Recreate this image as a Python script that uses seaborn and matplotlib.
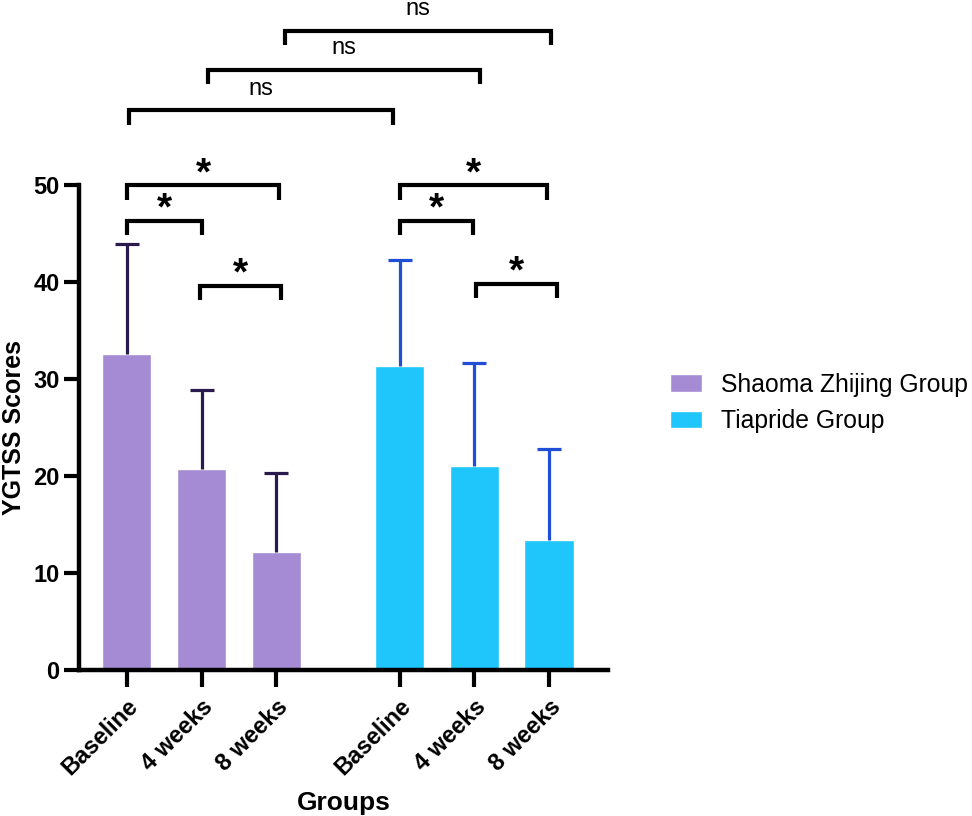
import numpy as np
import pandas as pd
import matplotlib
matplotlib.use("Agg")
import matplotlib.pyplot as plt
import seaborn as sns

# ---- data ----
timepoints = ["Baseline", "4 weeks", "8 weeks", "Baseline", "4 weeks", "8 weeks"]
groups = ["Shaoma Zhijing Group"] * 3 + ["Tiapride Group"] * 3
means = [32.6, 20.7, 12.2, 31.3, 21.0, 13.4]
sds = [11.3, 8.2, 8.1, 11.0, 10.6, 9.4]
positions = [0.0, 1.0, 2.0, 3.65, 4.65, 5.65]

# significance brackets
br_left = [0, 0, 1, 3, 3, 4, 0, 1, 2]
br_right = [1, 2, 2, 4, 5, 5, 3, 4, 5]
br_height = [46.3, 50.0, 39.6, 46.3, 50.0, 39.8, 57.7, 61.9, 65.9]
br_label = ["*", "*", "*", "*", "*", "*", "ns", "ns", "ns"]
br_dx_left = [0.0, 0.0, -0.02, 0.0, 0.0, 0.03, 0.03, 0.08, 0.12]
br_dx_right = [0.0, 0.04, 0.07, -0.02, -0.02, 0.11, -0.09, 0.08, 0.03]

purple = "#A58BD3"
cyan = "#1EC6FB"
err_colors = {"Shaoma Zhijing Group": "#2B1A4E", "Tiapride Group": "#1E4FD6"}

df = pd.DataFrame({"pos": positions, "mean": means, "sd": sds,
                   "group": groups, "time": timepoints})

sns.set_style("ticks", {"axes.edgecolor": "black", "xtick.color": "black",
                        "ytick.color": "black", "text.color": "black",
                        "axes.labelcolor": "black"})
plt.rcParams["font.family"] = ["Liberation Sans", "DejaVu Sans"]

fig = plt.figure(figsize=(9.72, 8.16), dpi=100)
ax = fig.add_axes([79 / 972, 1 - 670 / 816, (608 - 79) / 972, (670 - 185) / 816])

sns.barplot(data=df, x="pos", y="mean", hue="group", native_scale=True,
            dodge=False, width=0.66, palette=[purple, cyan], errorbar=None,
            saturation=1, ax=ax)

for g, sub in df.groupby("group"):
    cont = ax.errorbar(sub["pos"], sub["mean"], yerr=[np.zeros(len(sub)), sub["sd"]],
                       fmt="none", ecolor=err_colors[g], elinewidth=2.3,
                       capsize=8.6, capthick=2.3, zorder=3)
    caps = cont.lines[1]
    if len(caps) == 2:
        caps[0].set_visible(False)

ax.set_xlim(-0.64, 6.44)
ax.set_ylim(0, 50)
ax.set_yticks([0, 10, 20, 30, 40, 50])
ax.set_xticks(positions)
ax.set_xticklabels(timepoints, rotation=45, ha="right", rotation_mode="anchor",
                   fontsize=17, fontweight="bold")
for lab in ax.get_yticklabels():
    lab.set_fontsize(17)
    lab.set_fontweight("bold")
ax.tick_params(axis="y", width=3, length=11, pad=3, color="black")
ax.tick_params(axis="x", width=3, length=12, pad=6, color="black")
for s in ["left", "bottom"]:
    ax.spines[s].set_linewidth(3.2)
    ax.spines[s].set_color("black")
sns.despine(ax=ax)

ax.set_ylabel("YGTSS Scores", fontsize=18, fontweight="bold", labelpad=5)
ax.set_xlabel("Groups", fontsize=19, fontweight="bold", labelpad=8)

# brackets
leg = 1.5
for l, r, h, t, dl, dr in zip(br_left, br_right, br_height, br_label,
                              br_dx_left, br_dx_right):
    x1, x2 = positions[l] + dl, positions[r] + dr
    ax.plot([x1, x1, x2, x2], [h - leg, h, h, h - leg], color="black",
            lw=3, clip_on=False, solid_joinstyle="miter", solid_capstyle="butt")
    if t == "*":
        ax.text((x1 + x2) / 2, h + 0.1, t, ha="center", va="baseline",
                fontsize=28, fontweight="bold", clip_on=False)
    else:
        ax.text((x1 + x2) / 2, h + 1.6, t, ha="center", va="baseline",
                fontsize=17, clip_on=False)

handles, labels = ax.get_legend_handles_labels()
if ax.get_legend() is not None:
    ax.get_legend().remove()
fig.legend(handles, labels, loc="center left", bbox_to_anchor=(665 / 972, 1 - 403 / 816),
           frameon=False, fontsize=17.8, handlelength=1.3, handleheight=0.72,
           handletextpad=0.75, labelspacing=0.5, borderaxespad=0, borderpad=0.2)

fig.savefig("out.png", dpi=100)
